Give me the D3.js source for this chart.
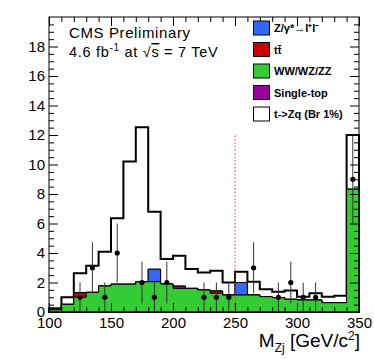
<!DOCTYPE html>
<html>
<head>
<meta charset="utf-8">
<script src="https://cdn.jsdelivr.net/npm/d3@7"></script>
<style>
  body { margin: 0; background: #fff; }
  svg { display: block; font-family: "Liberation Sans", Arial, sans-serif; }
</style>
</head>
<body>
<div id="chart"></div>
<script>
// bin lower edges, 10 GeV wide
const binLow = d3.range(100, 350, 10);

// stacked MC components (events per bin)
const dibosonVals = [0.15, 0.52, 1.0, 1.33, 1.76, 1.88, 1.88, 2.05, 2.05, 1.9, 1.6, 1.6, 1.49, 1.27, 1.15, 1.15, 1.15, 1.04, 0.97, 0.86, 0.81, 0.81, 0.63, 0.63, 8.32];
const ttbarVals = [0, 0, 0.31, 0, 0, 0, 0, 0, 0, 0, 0.15, 0, 0, 0.15, 0, 0, 0, 0, 0, 0, 0, 0, 0, 0, 0];
const zgammaVals = [0, 0, 0, 0, 0, 0, 0, 0, 0.85, 0, 0, 0, 0, 0, 0, 0.85, 0, 0, 0, 0, 0, 0, 0, 0, 0];
const singleTopVals = [0, 0, 0, 0, 0, 0, 0, 0, 0, 0, 0, 0, 0, 0, 0, 0, 0, 0, 0, 0, 0, 0, 0, 0, 0];
const signalVals = [0.1, 0.48, 1.31, 1.81, 2.33, 4.47, 8.32, 10.47, 3.9, 1.69, 2.07, 1.32, 1.18, 1.38, 0.85, 0.73, 0.9, 0.5, 0.41, 0.59, 0.23, 0.46, 0.41, 0.47, 3.68];

// observed data
const dataMass = [125, 135, 145, 155, 175, 185, 195, 225, 235, 245, 265, 285, 295, 305, 315, 345];
const dataCount = [1, 3, 1, 4, 2, 1, 2, 1, 1, 1, 3, 1, 2, 1, 1, 9];

const xMajorTicks = [100, 150, 200, 250, 300, 350];
const yMajorTicks = [0, 2, 4, 6, 8, 10, 12, 14, 16, 18];

const width = 374, height = 359;
const plot = { left: 49, right: 359, top: 17, bottom: 312 };

const x = d3.scaleLinear().domain([100, 350]).range([plot.left, plot.right]);
const y = d3.scaleLinear().domain([0, 20]).range([plot.bottom, plot.top]);

const svg = d3.select("#chart").append("svg")
  .attr("width", width)
  .attr("height", height);

// build stack, bottom -> top
const keys = ["diboson", "ttbar", "zgamma", "singletop", "signal"];
const rows = binLow.map((b, i) => ({
  low: b,
  diboson: dibosonVals[i],
  ttbar: ttbarVals[i],
  zgamma: zgammaVals[i],
  singletop: singleTopVals[i],
  signal: signalVals[i]
}));
const stacked = d3.stack().keys(keys)(rows);

const fills = {
  diboson: "#33cc33",
  ttbar: "#cc0000",
  zgamma: "#3366ff",
  singletop: "#990099",
  signal: "#ffffff"
};

const area = d3.area()
  .curve(d3.curveStepAfter)
  .x(d => x(d.low))
  .y0(y(0))
  .y1(d => y(d.top));

// draw highest cumulative first, like THStack
stacked.slice().reverse().forEach(layer => {
  const pts = layer.map(d => ({ low: d.data.low, top: d[1] }));
  pts.push({ low: 350, top: pts[pts.length - 1].top });
  svg.append("path")
    .attr("d", area(pts))
    .attr("fill", fills[layer.key])
    .attr("stroke", "#000")
    .attr("stroke-width", layer.key === "signal" ? 2 : 1)
    .attr("stroke-linejoin", "miter");
});

// cut line at 250
svg.append("line")
  .attr("x1", x(250)).attr("x2", x(250))
  .attr("y1", y(0)).attr("y2", y(12))
  .attr("stroke", "#ff3333")
  .attr("stroke-width", 1)
  .attr("stroke-dasharray", "1.5,2");

// data points
const pts = dataMass.map((m, i) => ({ m: m, n: dataCount[i] }));
svg.append("g").selectAll("line")
  .data(pts)
  .join("line")
  .attr("x1", d => x(d.m)).attr("x2", d => x(d.m))
  .attr("y1", d => y(Math.max(0, d.n - Math.sqrt(d.n))))
  .attr("y2", d => y(d.n + Math.sqrt(d.n)))
  .attr("stroke", "#333")
  .attr("stroke-width", 1);
svg.append("g").selectAll("circle")
  .data(pts)
  .join("circle")
  .attr("cx", d => x(d.m))
  .attr("cy", d => y(d.n))
  .attr("r", 2.6)
  .attr("fill", "#000");

// axes (ticks point inward, mirrored on top/right)
const minorX = d3.range(100, 351, 10).filter(v => v % 50 !== 0);
const minorY = d3.range(0, 20.01, 0.5).filter(v => v % 2 !== 0);

function styleAxis(g) {
  g.select(".domain").remove();
  g.selectAll("line").attr("stroke", "#000");
  g.attr("font-size", 15).attr("font-family", "Liberation Sans, Arial, sans-serif");
  g.selectAll("text").attr("fill", "#000");
}

svg.append("g").attr("transform", `translate(0,${plot.bottom})`)
  .call(d3.axisBottom(x).tickValues(xMajorTicks).tickSize(-9).tickPadding(5).tickFormat(d3.format("d")))
  .call(styleAxis);
svg.append("g").attr("transform", `translate(0,${plot.bottom})`)
  .call(d3.axisBottom(x).tickValues(minorX).tickSize(-5).tickFormat(""))
  .call(styleAxis);
svg.append("g").attr("transform", `translate(0,${plot.top})`)
  .call(d3.axisTop(x).tickValues(xMajorTicks).tickSize(-9).tickFormat(""))
  .call(styleAxis);
svg.append("g").attr("transform", `translate(0,${plot.top})`)
  .call(d3.axisTop(x).tickValues(minorX).tickSize(-5).tickFormat(""))
  .call(styleAxis);

svg.append("g").attr("transform", `translate(${plot.left},0)`)
  .call(d3.axisLeft(y).tickValues(yMajorTicks).tickSize(-9).tickPadding(4))
  .call(styleAxis);
svg.append("g").attr("transform", `translate(${plot.left},0)`)
  .call(d3.axisLeft(y).tickValues(minorY).tickSize(-5).tickFormat(""))
  .call(styleAxis);
svg.append("g").attr("transform", `translate(${plot.right},0)`)
  .call(d3.axisRight(y).tickValues(yMajorTicks).tickSize(-9).tickFormat(""))
  .call(styleAxis);
svg.append("g").attr("transform", `translate(${plot.right},0)`)
  .call(d3.axisRight(y).tickValues(minorY).tickSize(-5).tickFormat(""))
  .call(styleAxis);

// frame
svg.append("rect")
  .attr("x", plot.left).attr("y", plot.top)
  .attr("width", plot.right - plot.left)
  .attr("height", plot.bottom - plot.top)
  .attr("fill", "none")
  .attr("stroke", "#000")
  .attr("stroke-width", 1);

// x axis title
const xt = svg.append("text")
  .attr("x", 360).attr("y", 347)
  .attr("text-anchor", "end")
  .attr("font-size", 19)
  .attr("fill", "#000");
xt.append("tspan").text("M");
xt.append("tspan").attr("font-size", 12).attr("dy", 5).text("Zj");
xt.append("tspan").attr("dy", -5).text(" [GeV/c");
xt.append("tspan").attr("font-size", 12).attr("dy", -7).text("2");
xt.append("tspan").attr("dy", 7).text("]");

// header
svg.append("text")
  .attr("x", 69).attr("y", 37.5)
  .attr("font-size", 15)
  .attr("textLength", 121)
  .attr("lengthAdjust", "spacing")
  .text("CMS Preliminary");

const lumi = svg.append("text")
  .attr("x", 69).attr("y", 57)
  .attr("font-size", 14.5)
  .attr("letter-spacing", 0.7);
lumi.append("tspan").text("4.6 fb");
lumi.append("tspan").attr("font-size", 10).attr("dy", -6).text("-1");
lumi.append("tspan").attr("dy", 6).text(" at \u221A");
lumi.append("tspan").attr("text-decoration", "overline").text("s");
lumi.append("tspan").text(" = 7 TeV");

// legend
const legendItems = [
  { label: "Z/\u03B3*\u2192l\u207Al\u207B", fill: fills.zgamma },
  { label: "tt\u0304", fill: fills.ttbar },
  { label: "WW/WZ/ZZ", fill: fills.diboson },
  { label: "Single-top", fill: fills.singletop },
  { label: "t->Zq (Br 1%)", fill: fills.signal }
];
const leg = svg.append("g");
legendItems.forEach((d, i) => {
  const top = 21 + i * 21.5;
  leg.append("rect")
    .attr("x", 253.5).attr("y", top)
    .attr("width", 16).attr("height", 14)
    .attr("fill", d.fill)
    .attr("stroke", "#000")
    .attr("stroke-width", 1);
  leg.append("text")
    .attr("x", 274).attr("y", top + 11)
    .attr("font-size", 11)
    .attr("font-weight", "bold")
    .text(d.label);
});
</script>
</body>
</html>
